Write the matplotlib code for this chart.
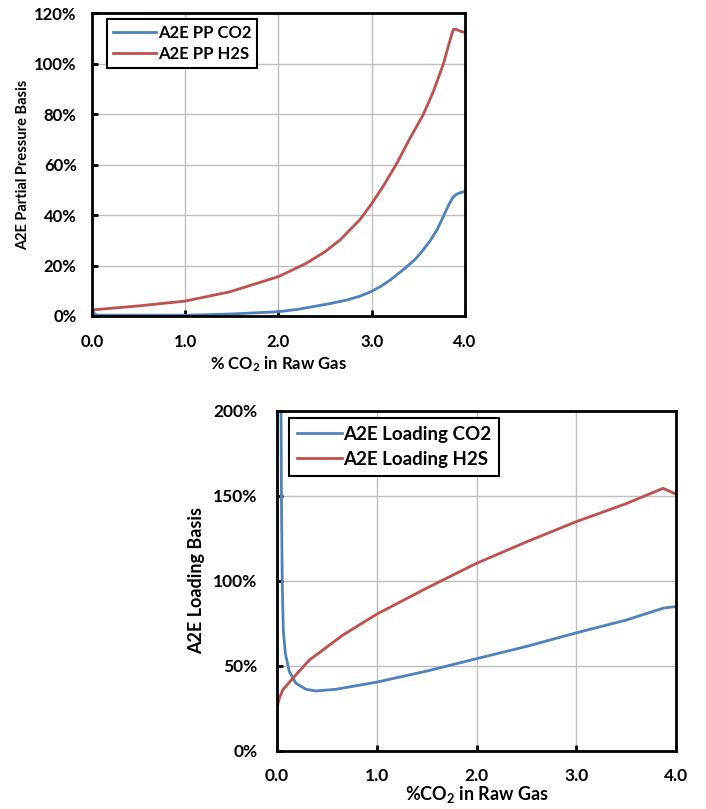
import numpy as np
from matplotlib import pyplot as plt
from matplotlib.ticker import FuncFormatter

# top chart: partial pressure basis (%)
pp_co2_x = [0.0, 0.03, 0.06, 0.5, 1.0, 1.5, 2.0, 2.2, 2.37, 2.55, 2.73, 2.87, 2.99, 3.1, 3.2, 3.29, 3.375,
            3.47, 3.55, 3.63, 3.7, 3.75, 3.8, 3.84, 3.875, 3.91, 3.946, 4.0]
pp_co2 = [2.4, 0.8, 0.3, 0.3, 0.3, 0.8, 1.7, 2.6, 3.7, 4.9, 6.3, 7.8, 9.6, 11.8, 14.3, 16.9, 19.5,
          22.6, 26.1, 30.0, 34.1, 38.0, 42.0, 45.0, 47.2, 48.2, 48.8, 49.3]
pp_h2s_x = [0.0, 0.5, 1.0, 1.48, 2.0, 2.3, 2.5, 2.66, 2.87, 2.99, 3.12, 3.27, 3.41, 3.55, 3.66, 3.77,
            3.84, 3.875, 3.91, 3.95, 4.0]
pp_h2s = [2.4, 4.0, 5.9, 9.6, 15.6, 20.9, 25.5, 30.1, 38.0, 44.0, 51.2, 60.5, 70.4, 79.6, 88.8, 100.0,
          109.3, 113.5, 113.5, 112.8, 112.3]

# bottom chart: loading basis (%)
ld_co2_x = [0.04, 0.044, 0.052, 0.063, 0.083, 0.123, 0.19, 0.29, 0.39, 0.59, 1.0, 1.5, 2.0, 2.5, 3.0,
            3.5, 3.87, 4.0]
ld_co2 = [200, 150, 100, 71, 57.5, 46.7, 39.8, 36.3, 35.3, 36.3, 40.5, 47.0, 54.3, 61.5, 69.5,
          77.0, 84.0, 85.0]
ld_h2s_x = [0.0, 0.02, 0.057, 0.157, 0.324, 0.66, 1.0, 1.5, 2.0, 2.5, 3.0, 3.5, 3.87, 4.0]
ld_h2s = [25.0, 30.5, 35.9, 42.7, 53.5, 68.2, 80.5, 95.8, 110.4, 123.0, 134.9, 145.5, 154.5, 151.0]

blue = '#4F81BD'
red = '#C0504D'

plt.rcParams['font.family'] = ['Lato', 'DejaVu Sans']
plt.rcParams['font.weight'] = 'bold'
plt.rcParams['mathtext.default'] = 'regular'

fig = plt.figure(figsize=(7.06, 8.09), dpi=100)

pct = FuncFormatter(lambda v, p: '%d%%' % v)
dec = FuncFormatter(lambda v, p: '%.1f' % v)


def style(ax, fs):
    ax.grid(True, color='#BFBFBF', linewidth=1.0)
    ax.set_axisbelow(True)
    for s in ax.spines.values():
        s.set_linewidth(2.0)
        s.set_color('black')
    ax.tick_params(direction='in', length=4, width=2, labelsize=fs)
    for lab in ax.get_xticklabels() + ax.get_yticklabels():
        lab.set_fontweight('bold')
    ax.xaxis.set_major_formatter(dec)
    ax.yaxis.set_major_formatter(pct)


ax1 = fig.add_axes([0.1303, 0.6094, 0.5283, 0.3745])
ax1.plot(pp_co2_x, pp_co2, color=blue, lw=2.0, label='A2E PP CO2')
ax1.plot(pp_h2s_x, pp_h2s, color=red, lw=2.0, label='A2E PP H2S')
ax1.set_xlim(0, 4)
ax1.set_ylim(0, 120)
ax1.set_xticks([0, 1, 2, 3, 4])
ax1.set_yticks(np.arange(0, 121, 20))
style(ax1, 12)
ax1.tick_params(axis='y', pad=11)
ax1.tick_params(axis='x', pad=13)
ax1.set_xlabel('% CO$_2$ in Raw Gas', fontsize=12, fontweight='bold', labelpad=3)
ax1.set_ylabel('A2E Partial Pressure Basis', fontsize=10.5, fontweight='bold', labelpad=3)
leg1 = ax1.legend(loc='upper left', bbox_to_anchor=(0.04, 0.98), fontsize=12,
                  frameon=True, fancybox=False, edgecolor='black', framealpha=1,
                  borderaxespad=0, handlelength=2.6, handletextpad=0.1,
                  borderpad=0.35, labelspacing=0.3)
leg1.get_frame().set_linewidth(1.5)

ax2 = fig.add_axes([0.3924, 0.0717, 0.5652, 0.4203])
ax2.plot(ld_co2_x, ld_co2, color=blue, lw=2.0, label='A2E Loading CO2')
ax2.plot(ld_h2s_x, ld_h2s, color=red, lw=2.0, label='A2E Loading H2S')
ax2.set_xlim(0, 4)
ax2.set_ylim(0, 200)
ax2.set_xticks([0, 1, 2, 3, 4])
ax2.set_yticks(np.arange(0, 201, 50))
style(ax2, 12.5)
ax2.tick_params(axis='y', pad=14)
ax2.tick_params(axis='x', pad=12)
ax2.set_xlabel('%CO$_2$ in Raw Gas', fontsize=13, fontweight='bold', labelpad=0)
ax2.set_ylabel('A2E Loading Basis', fontsize=13, fontweight='bold', labelpad=6)
leg2 = ax2.legend(loc='upper left', bbox_to_anchor=(0.03, 0.979), fontsize=13.5,
                  frameon=True, fancybox=False, edgecolor='black', framealpha=1,
                  borderaxespad=0, handlelength=2.4, handletextpad=0.1,
                  borderpad=0.4, labelspacing=0.45)
leg2.get_frame().set_linewidth(1.5)

fig.savefig('out.png', dpi=100)
